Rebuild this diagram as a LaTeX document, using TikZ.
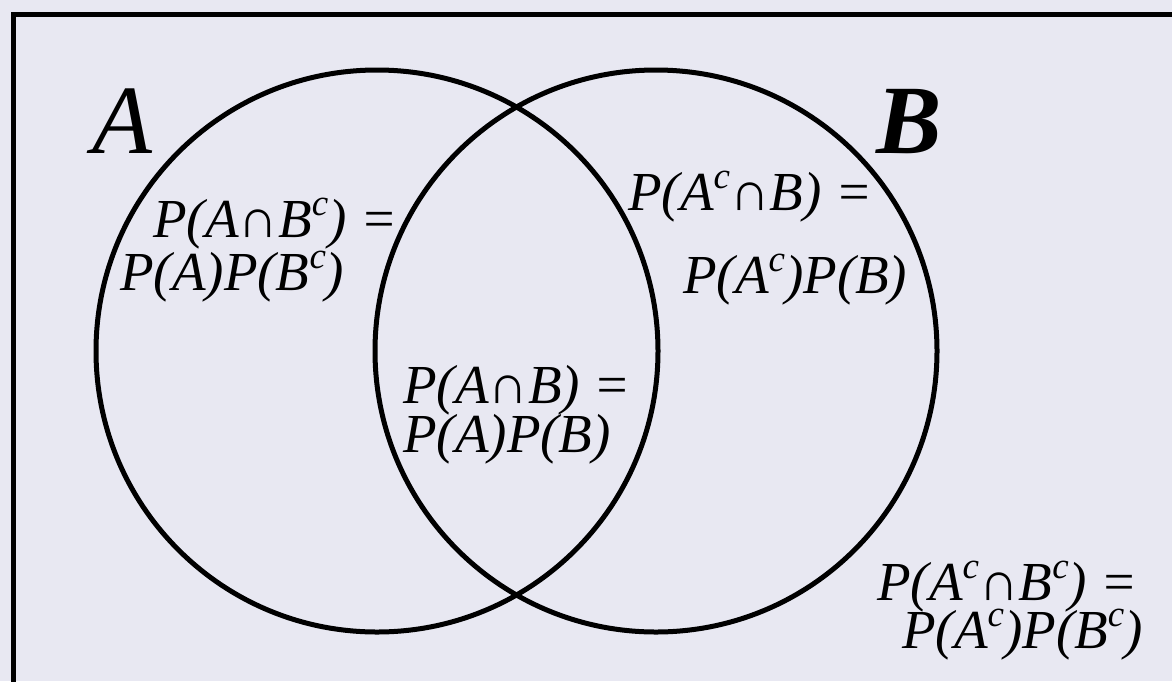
\documentclass[tikz,border=0pt]{standalone}
\usepackage{fontspec}
\setmainfont{Liberation Serif}
\definecolor{bgc}{RGB}{232,232,242}
\newcommand{\supc}{\raisebox{0.40em}{\fontsize{37}{37}\selectfont c}}
\newcommand{\capset}{{\upshape\bfseries ∩}}
\tikzset{
  lbl/.style={inner sep=0pt, anchor=base west, font=\fontsize{55}{60}\selectfont\itshape},
  setname/.style={inner sep=0pt, anchor=base west, font=\fontsize{98}{100}\selectfont\itshape},
  setcircle/.style={draw=black, line width=5pt}
}
\begin{document}
\begin{tikzpicture}[x=1pt,y=-1pt]
\useasboundingbox (0,0) rectangle (1172,681);
\fill[bgc] (0,0) rectangle (1172,681);
\begin{scope}
\clip (0,0) rectangle (1172,681);
\draw[line width=5.5pt] (13.5,14.5) rectangle (1190,700);
\end{scope}
\node[setcircle, circle, minimum size=562pt, inner sep=0pt] (cA) at (377,351) {};
\node[setcircle, circle, minimum size=562pt, inner sep=0pt] (cB) at (656,351) {};
\node[setname] (nA) at (92,153) {A};
\node[setname, font=\fontsize{98}{100}\selectfont\bfseries\itshape] (nB) at (876,153) {B};
\node[lbl] (a1) at (153,237) {P(A\capset B\supc) =};
\node[lbl] (a2) at (120,290) {P(A)P(B\supc)};
\node[lbl] (b1) at (628,210) {P(A\supc\capset B) =};
\node[lbl] (b2) at (683,293) {P(A\supc)P(B)};
\node[lbl] (c1) at (403,403) {P(A\capset B) =};
\node[lbl] (c2) at (403,452) {P(A)P(B)};
\node[lbl] (d1) at (877,600) {P(A\supc\capset B\supc) =};
\node[lbl] (d2) at (902,648) {P(A\supc)P(B\supc)};
\end{tikzpicture}
\end{document}
